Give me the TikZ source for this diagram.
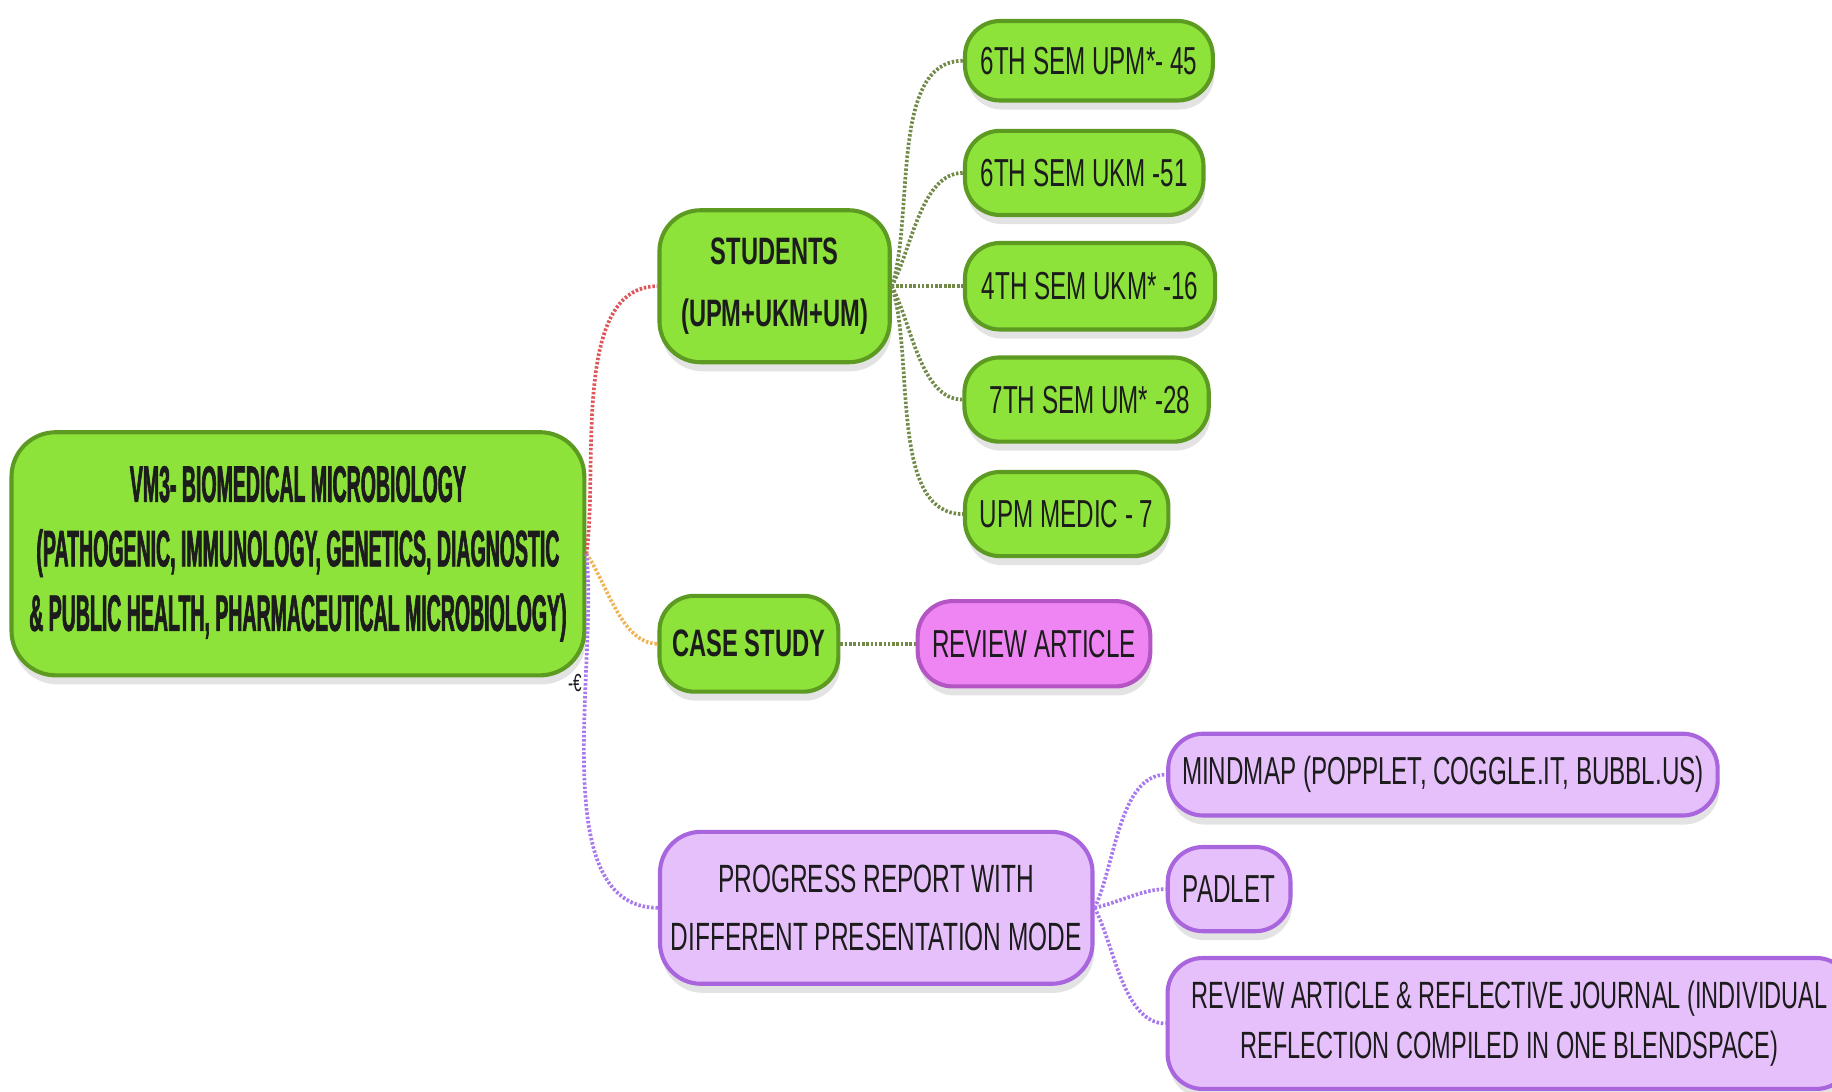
\documentclass[tikz,border=0pt]{standalone}
\usepackage{fontspec}
\usetikzlibrary{shadows}
\newfontfamily\mapfont[FakeStretch=0.62]{Liberation Sans}
\newfontfamily\rootfont[FakeStretch=0.38,FakeBold=1.2]{Liberation Sans Bold}
\definecolor{limefill}{HTML}{8EE33A}
\definecolor{limeline}{HTML}{5C9A22}
\definecolor{pinkfill}{HTML}{EE85F2}
\definecolor{pinkline}{HTML}{B455C4}
\definecolor{lilacfill}{HTML}{E6C0FA}
\definecolor{lilacline}{HTML}{A865DE}
\definecolor{inkdark}{HTML}{1C1C1C}
\definecolor{redlink}{HTML}{E0555A}
\definecolor{orangelink}{HTML}{EDB45A}
\definecolor{purplelink}{HTML}{A878EE}
\definecolor{olivelink}{HTML}{728A48}
\tikzstyle{topic}=[rectangle, draw, line width=1pt, rounded corners=0.3cm, align=center, inner sep=0pt, text=inkdark,
  drop shadow={shadow xshift=0.4pt, shadow yshift=-2.2pt, opacity=0.22},
  font=\mapfont\fontsize{9.5}{13.5}\selectfont]
\tikzstyle{greentopic}=[topic, draw=limeline, fill=limefill]
\tikzstyle{pinktopic}=[topic, draw=pinkline, fill=pinkfill]
\tikzstyle{lilactopic}=[topic, draw=lilacline, fill=lilacfill]
\tikzstyle{link}=[line width=0.9pt, dash pattern=on 0.6pt off 0.45pt, in=180, looseness=0.8]
\newcommand{\green}{\node[greentopic]}
\newcommand{\lilac}{\node[lilactopic]}

\begin{document}
\begin{tikzpicture}[x=0.01cm, y=-0.01cm]
\useasboundingbox (0,0) rectangle (1568,934);
\green[rounded corners=0.38cm, minimum width=4.9cm, minimum height=2.08cm,
  font=\rootfont\fontsize{12.5}{15.7}\selectfont] (root) at (255,474)
  {VM3- BIOMEDICAL MICROBIOLOGY\\(PATHOGENIC, IMMUNOLOGY, GENETICS, DIAGNOSTIC\\\& PUBLIC HEALTH, PHARMACEUTICAL MICROBIOLOGY)};
\node[font=\mapfont\fontsize{6}{6}\selectfont, text=inkdark] (mark) at (492,585) {-€};
\green[rounded corners=0.35cm, minimum width=1.97cm, minimum height=1.3cm,
  font=\mapfont\bfseries\fontsize{9.3}{15}\selectfont] (students) at (663,245) {STUDENTS\\(UPM+UKM+UM)};
\green[minimum width=2.12cm, minimum height=0.68cm] (s1) at (932,52) {6TH SEM UPM*- 45};
\green[minimum width=2.04cm, minimum height=0.72cm] (s2) at (928,148) {6TH SEM UKM -51};
\green[minimum width=2.14cm, minimum height=0.74cm] (s3) at (933,245) {4TH SEM UKM* -16};
\green[minimum width=2.09cm, minimum height=0.72cm] (s4) at (930,342) {\,7TH SEM UM* -28};
\green[minimum width=1.74cm, minimum height=0.72cm] (s5) at (913,440) {UPM MEDIC - 7};
\green[minimum width=1.53cm, minimum height=0.82cm,
  font=\mapfont\bfseries\fontsize{9.3}{13.5}\selectfont] (case) at (641,551) {CASE STUDY};
\node[pinktopic, minimum width=1.99cm, minimum height=0.73cm] (review) at (885,551) {REVIEW ARTICLE};
\lilac[rounded corners=0.35cm, minimum width=3.7cm, minimum height=1.3cm,
  font=\mapfont\fontsize{9.6}{14.2}\selectfont] (progress) at (750,777) {PROGRESS REPORT WITH\\DIFFERENT PRESENTATION MODE};
\lilac[minimum width=4.7cm, minimum height=0.7cm] (mindmap) at (1235,663) {MINDMAP (POPPLET, COGGLE.IT, BUBBL.US)};
\lilac[minimum width=1.05cm, minimum height=0.72cm] (padlet) at (1052,761) {PADLET};
\lilac[minimum width=5.85cm, minimum height=1.12cm, font=\mapfont\fontsize{9.25}{12.2}\selectfont] (journal) at (1292,876)
  {REVIEW ARTICLE \& REFLECTIVE JOURNAL (INDIVIDUAL\\REFLECTION COMPILED IN ONE BLENDSPACE)};
\path
(root.east) edge[link, draw=redlink, out=82] (students.west)
  edge[link, draw=orangelink, out=-55] (case.west)
  edge[link, draw=purplelink, out=-84] (progress.west)
(students.east) edge[link, draw=olivelink, out=72] (s1.west)
  edge[link, draw=olivelink, out=62] (s2.west)
  edge[link, draw=olivelink, out=0] (s3.west)
  edge[link, draw=olivelink, out=-62] (s4.west)
  edge[link, draw=olivelink, out=-72] (s5.west)
(case.east) edge[link, draw=olivelink, out=0] (review.west)
(progress.east) edge[link, draw=purplelink, out=64] (mindmap.west)
  edge[link, draw=purplelink, out=12] (padlet.west)
  edge[link, draw=purplelink, out=-62] (journal.west)
;
\end{tikzpicture}
\end{document}
